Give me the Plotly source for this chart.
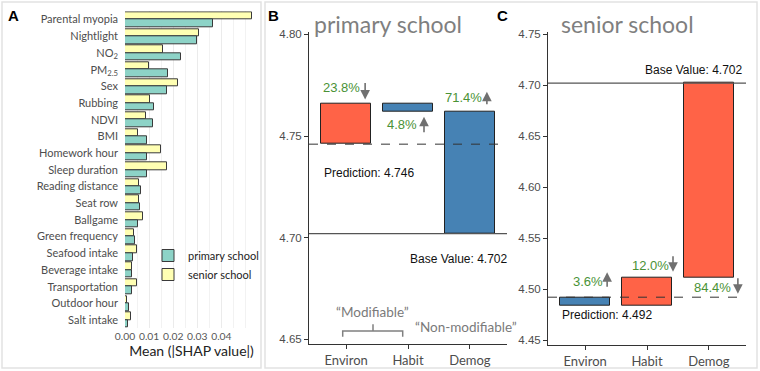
import plotly.graph_objects as go

# ---------------- data ----------------
features = ["Parental myopia", "Nightlight", "NO<sub>2</sub>", "PM<sub>2.5</sub>", "Sex",
            "Rubbing", "NDVI", "BMI", "Homework hour", "Sleep duration",
            "Reading distance", "Seat row", "Ballgame", "Green frequency",
            "Seafood intake", "Beverage intake", "Transportation", "Outdoor hour",
            "Salt intake"]
shap_primary = [0.0366, 0.0297, 0.0232, 0.0180, 0.0175, 0.0122, 0.0115, 0.0093, 0.0093,
                0.0090, 0.0065, 0.0062, 0.0055, 0.0040, 0.0033, 0.0028, 0.0028, 0.0018, 0.0014]
shap_senior = [0.0527, 0.0306, 0.0159, 0.0100, 0.0219, 0.0104, 0.0087, 0.0055, 0.0148,
               0.0176, 0.0058, 0.0060, 0.0073, 0.0036, 0.0048, 0.0028, 0.0048, 0.0010, 0.0024]
xticks_A = [0.00, 0.01, 0.02, 0.03, 0.04]

groups = ["Environ", "Habit", "Demog"]
base_value = 4.702
contrib_primary = [-0.0200, 0.0040, 0.0600]
contrib_senior = [0.0082, -0.0272, -0.1910]
pct_primary = ["23.8%", "4.8%", "71.4%"]
pct_senior = ["3.6%", "12.0%", "84.4%"]
yticks_B = [4.65, 4.70, 4.75, 4.80]
yticks_C = [4.45, 4.50, 4.55, 4.60, 4.65, 4.70, 4.75]

# ---------------- helpers ----------------
W, H = 760, 371
def fx(px): return px / W
def fy(py): return 1 - py / H

TEAL, YELLOW = "#8DD3C7", "#FFFFB3"
RED, BLUE = "#FF6347", "#4682B4"
GREEN = "#4A9236"
GREY_TXT = "#4d4d4d"
UIF = "Lato"
NUMF = "Liberation Sans"

def waterfall(contribs):
    # cumulate from the right-most group (Demog) to the left-most (Environ)
    starts = [0.0] * len(contribs)
    cur = base_value
    for i in reversed(range(len(contribs))):
        starts[i] = cur
        cur += contribs[i]
    return starts, cur

starts_p, pred_p = waterfall(contrib_primary)
starts_s, pred_s = waterfall(contrib_senior)

fig = go.Figure()

# ---------------- panel A ----------------
fig.add_trace(go.Bar(y=features, x=shap_senior, orientation="h", name="senior school",
                     marker=dict(color=YELLOW, line=dict(color="#3a3a3a", width=1)),
                     offset=-0.45, width=0.45, xaxis="x", yaxis="y", legendrank=2))
fig.add_trace(go.Bar(y=features, x=shap_primary, orientation="h", name="primary school",
                     marker=dict(color=TEAL, line=dict(color="#3a3a3a", width=1)),
                     offset=0.0, width=0.45, xaxis="x", yaxis="y", legendrank=1))

# ---------------- panels B, C ----------------
def colors(cs): return [BLUE if c > 0 else RED for c in cs]

fig.add_trace(go.Bar(x=groups, y=contrib_primary, base=starts_p, width=0.8,
                     marker=dict(color=colors(contrib_primary), line=dict(color="#222", width=1)),
                     xaxis="x2", yaxis="y2", showlegend=False))
fig.add_trace(go.Bar(x=groups, y=contrib_senior, base=starts_s, width=0.8,
                     marker=dict(color=colors(contrib_senior), line=dict(color="#222", width=1)),
                     xaxis="x3", yaxis="y3", showlegend=False))

tickfontA = dict(family=UIF, size=10.3, color="#555")
fig.update_layout(
    width=W, height=H, margin=dict(l=0, r=0, t=0, b=0, autoexpand=False),
    paper_bgcolor="white", plot_bgcolor="white",
    barmode="overlay", bargap=0,
    showlegend=True,
    legend=dict(x=fx(148), y=fy(241), xanchor="left", yanchor="top",
                font=dict(family=UIF, size=11, color="#222"),
                bgcolor="rgba(0,0,0,0)", traceorder="normal", itemwidth=30),
    xaxis=dict(domain=[fx(125), fx(258)], range=[0, 0.0552], anchor="y", automargin=False,
               tickvals=xticks_A, ticktext=["%.2f" % v for v in xticks_A], tickangle=0,
               tickfont=tickfontA, showgrid=True, gridcolor="#ebebeb", gridwidth=1,
               minor=dict(dtick=0.005, showgrid=True, gridcolor="#f2f2f2", gridwidth=1),
               zeroline=False, ticks="", showline=False,
               title=dict(text="Mean (|SHAP value|)", font=dict(family=UIF, size=14, color="#222"),
                          standoff=2)),
    yaxis=dict(domain=[fy(328.4), fy(11.3)], type="category", categoryarray=features,
               range=[len(features) - 0.5, -0.5], anchor="x", automargin=False,
               tickfont=dict(family=UIF, size=11, color=GREY_TXT), ticks="",
               showgrid=False, zeroline=False, showline=False, ticklabelstandoff=6),
    xaxis2=dict(domain=[fx(309), fx(507)], type="category", categoryarray=groups,
                range=[-0.6, 2.6], anchor="y2", showline=True, linecolor="#333", linewidth=1,
                ticks="outside", ticklen=4, tickcolor="#333", automargin=False,
                tickfont=dict(family=UIF, size=13, color=GREY_TXT), showgrid=False),
    yaxis2=dict(domain=[fy(344.3), fy(31.7)], range=[4.6476, 4.8013], anchor="x2",
                tickvals=yticks_B, ticktext=["%.2f" % v for v in yticks_B], automargin=False,
                showline=True, linecolor="#333", linewidth=1, ticks="outside", ticklen=4,
                tickcolor="#333", tickfont=dict(family=NUMF, size=11.5, color=GREY_TXT),
                showgrid=False, zeroline=False),
    xaxis3=dict(domain=[fx(548), fx(746)], type="category", categoryarray=groups,
                range=[-0.6, 2.6], anchor="y3", showline=True, linecolor="#333", linewidth=1,
                ticks="outside", ticklen=4, tickcolor="#333", automargin=False,
                tickfont=dict(family=UIF, size=13, color=GREY_TXT), showgrid=False),
    yaxis3=dict(domain=[fy(345), fy(31.7)], range=[4.4451, 4.7525], anchor="x3",
                tickvals=yticks_C, ticktext=["%.2f" % v for v in yticks_C], automargin=False,
                showline=True, linecolor="#333", linewidth=1, ticks="outside", ticklen=4,
                tickcolor="#333", tickfont=dict(family=NUMF, size=11.5, color=GREY_TXT),
                showgrid=False, zeroline=False),
)

shapes = []
# panel frames
shapes.append(dict(type="rect", xref="paper", yref="paper", x0=fx(2), x1=fx(261), y0=fy(368), y1=fy(2),
                   line=dict(color="#e2e2e2", width=1.5), layer="below"))
shapes.append(dict(type="rect", xref="paper", yref="paper", x0=fx(265), x1=fx(757), y0=fy(368), y1=fy(2),
                   line=dict(color="#e2e2e2", width=1.5), layer="below"))
# base value and prediction lines
for xa, ya, pred in (("x2", "y2", pred_p), ("x3", "y3", pred_s)):
    shapes.append(dict(type="line", xref=xa + " domain", yref=ya, x0=0, x1=1, y0=base_value, y1=base_value,
                       line=dict(color="#555", width=1.4)))
    shapes.append(dict(type="line", xref=xa + " domain", yref=ya, x0=0, x1=1, y0=pred, y1=pred,
                       line=dict(color="#333", width=1, dash="dash")))
# "Modifiable" brace
bx0, bx1, bxm, by, byend, bytip = 342.7, 402.7, 373, 331, 336.7, 324.3
path = (f"M{fx(bx0)},{fy(byend)} L{fx(bx0)},{fy(by)} L{fx(bx1)},{fy(by)} L{fx(bx1)},{fy(byend)} "
        f"M{fx(bxm)},{fy(by)} L{fx(bxm)},{fy(bytip)}")
shapes.append(dict(type="path", xref="paper", yref="paper", path=path,
                   line=dict(color="#808080", width=1.5)))
fig.update_layout(shapes=shapes)

ann = []
def text_ann(text, x, y, xref, yref, xanchor="center", xshift=0, yshift=0, size=13,
             color=GREEN, family=NUMF):
    ann.append(dict(text=text, x=x, y=y, xref=xref, yref=yref, xanchor=xanchor, yanchor="middle",
                    xshift=xshift, yshift=yshift, showarrow=False,
                    font=dict(family=family, size=size, color=color)))

def arrow_ann(x, y, xref, yref, xshift, tip_shift, tail_shift):
    # shifts in pixels, positive = up
    ann.append(dict(text="", x=x, y=y, xref=xref, yref=yref, xshift=xshift, yshift=tip_shift,
                    ax=0, ay=tip_shift - tail_shift, axref="pixel", ayref="pixel",
                    showarrow=True, arrowhead=2, arrowsize=1.2, arrowwidth=1.6,
                    arrowcolor="#707070", standoff=0, startstandoff=0))

# panel B labels
tops_p = [max(s, s + c) for s, c in zip(starts_p, contrib_primary)]
bots_p = [min(s, s + c) for s, c in zip(starts_p, contrib_primary)]
text_ann(pct_primary[0], 0, tops_p[0], "x2", "y2", xshift=-5, yshift=16)
arrow_ann(0, tops_p[0], "x2", "y2", 19, 4, 22)
text_ann(pct_primary[1], 1, bots_p[1], "x2", "y2", xshift=-6, yshift=-13)
arrow_ann(1, bots_p[1], "x2", "y2", 16, -5, -22)
text_ann(pct_primary[2], 2, tops_p[2], "x2", "y2", xshift=-6, yshift=14)
arrow_ann(2, tops_p[2], "x2", "y2", 17, 20, 6)
text_ann(f"Prediction: {pred_p:.3f}", 0, pred_p, "x2", "y2", xanchor="left", xshift=-24,
         yshift=-29, size=12, color="#111")
text_ann(f"Base Value: {base_value:.3f}", 1, base_value, "x2", "y2", xanchor="left", xshift=0,
         yshift=-25, size=12, color="#111")

# panel C labels
tops_s = [max(s, s + c) for s, c in zip(starts_s, contrib_senior)]
bots_s = [min(s, s + c) for s, c in zip(starts_s, contrib_senior)]
text_ann(pct_senior[0], 0, tops_s[0], "x3", "y3", xshift=3, yshift=16)
arrow_ann(0, tops_s[0], "x3", "y3", 22, 25, 9)
text_ann(pct_senior[1], 1, tops_s[1], "x3", "y3", xshift=3, yshift=12)
arrow_ann(1, tops_s[1], "x3", "y3", 26, 6, 23)
text_ann(pct_senior[2], 2, bots_s[2], "x3", "y3", xshift=4, yshift=-10)
arrow_ann(2, bots_s[2], "x3", "y3", 29, -16, 1)
text_ann(f"Base Value: {base_value:.3f}", 2, base_value, "x3", "y3", xanchor="right", xshift=36,
         yshift=13, size=12, color="#111")
text_ann(f"Prediction: {pred_s:.3f}", 0, pred_s, "x3", "y3", xanchor="left", xshift=-25,
         yshift=-18, size=12, color="#111")

# titles, panel letters, modifiable notes
text_ann("primary school", fx(312), fy(24), "paper", "paper", xanchor="left", size=23,
         color="#7f7f7f", family=UIF)
text_ann("senior school", fx(559), fy(24), "paper", "paper", xanchor="left", size=23,
         color="#7f7f7f", family=UIF)
for letter, px in (("A", 13), ("B", 273), ("C", 502)):
    text_ann(f"<b>{letter}</b>", fx(px), fy(15), "paper", "paper", size=15, color="#000",
             family="Liberation Sans")
text_ann("\u201cModifiable\u201d", fx(372), fy(312), "paper", "paper", size=13.5,
         color="#7a7a7a", family=UIF)
text_ann("\u201cNon-modifiable\u201d", fx(413), fy(326.7), "paper", "paper", xanchor="left",
         size=13.5, color="#7a7a7a", family=UIF)

fig.update_layout(annotations=ann)
fig.write_html("out.html", config={"displayModeBar": False},
               post_script="document.body.style.margin='0';document.body.style.overflow='hidden';")
